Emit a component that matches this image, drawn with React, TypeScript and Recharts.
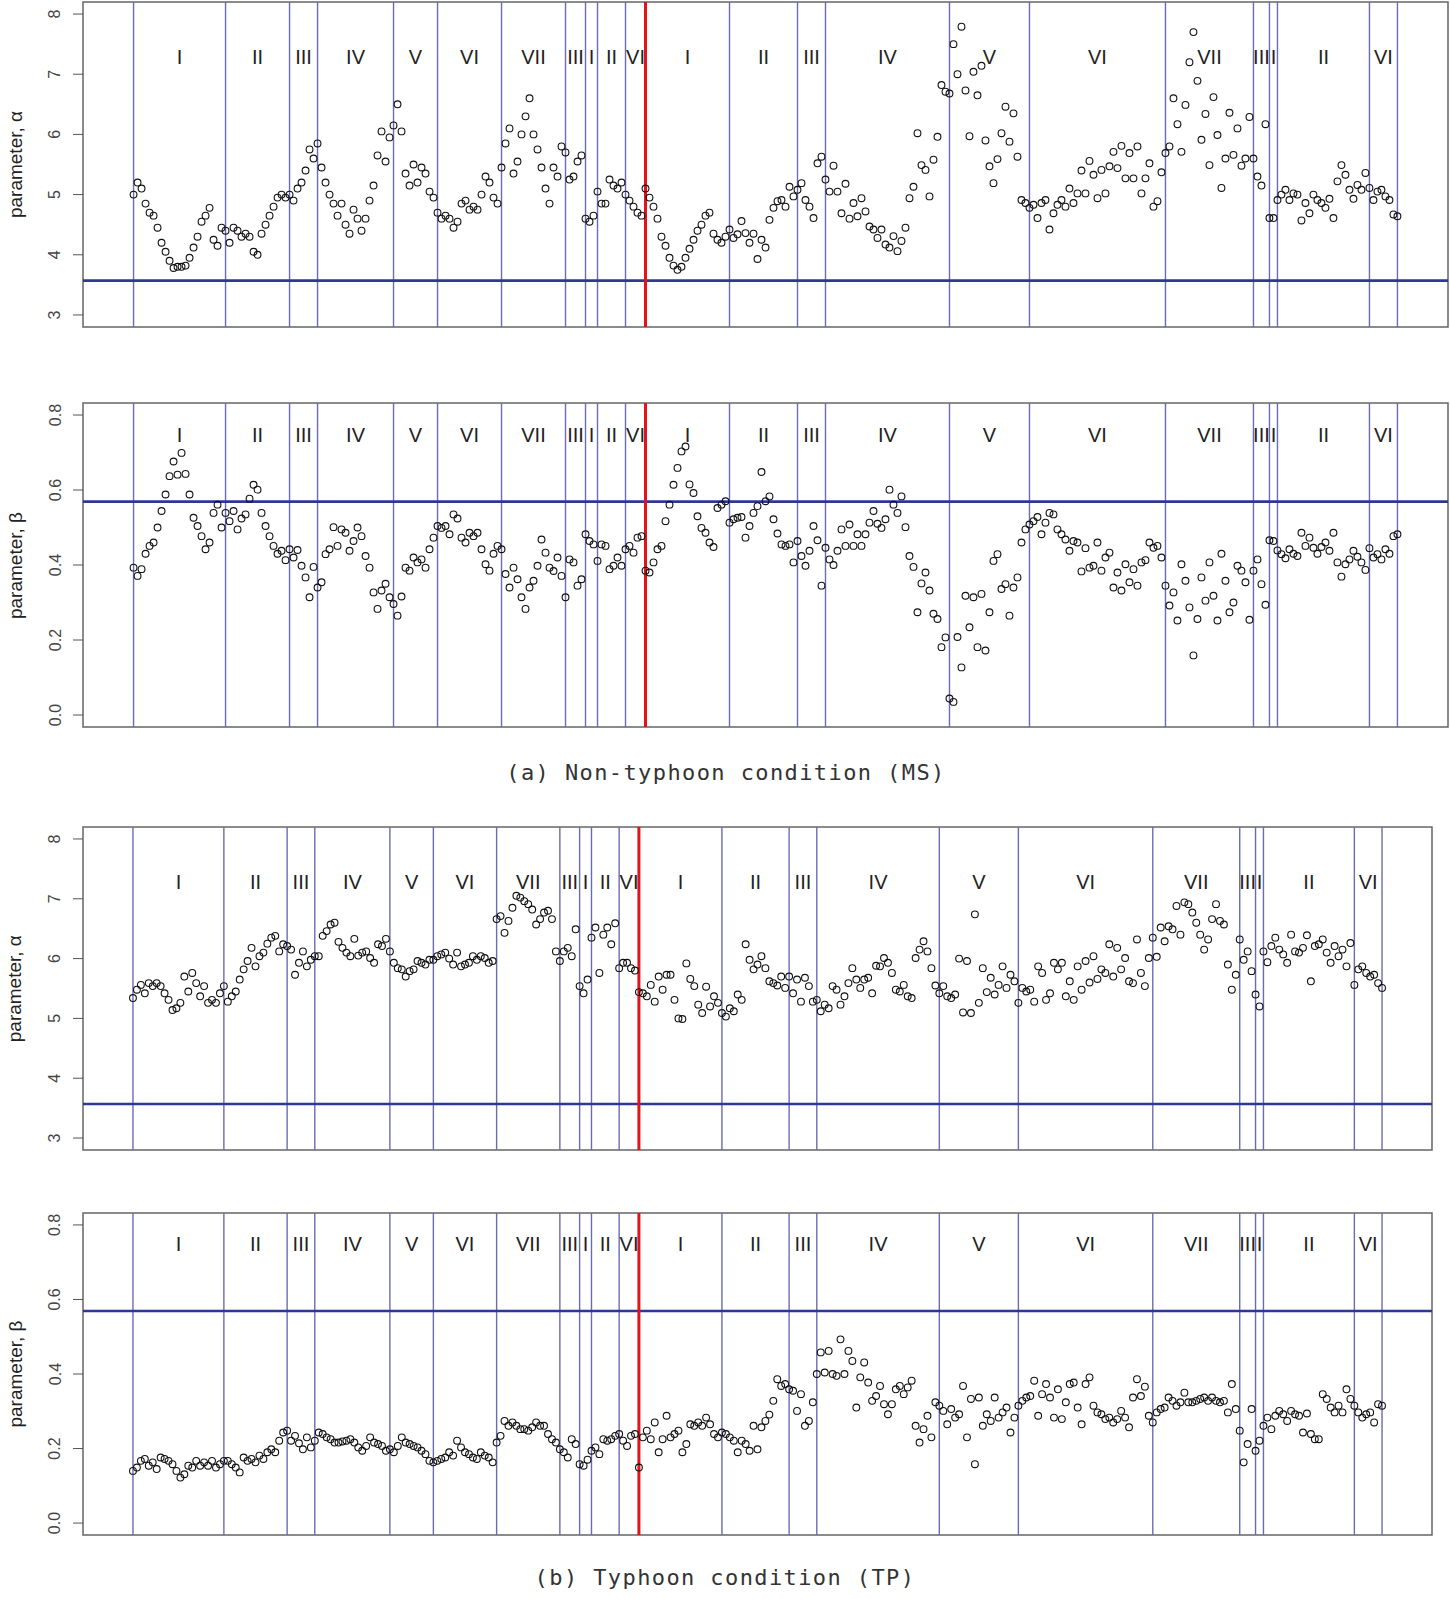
import React from 'react';
import { ScatterChart, Scatter, XAxis, YAxis, ReferenceLine, ReferenceArea } from 'recharts';

// Segment boundaries (observation index where each class segment starts; last = final index)
const BOUNDS = [0, 23, 39, 46, 65, 76, 92, 108, 113, 116, 123, 128, 149, 166, 173, 204, 224, 258, 280, 284, 286, 309, 316];
const SEG_LABELS = ['I', 'II', 'III', 'IV', 'V', 'VI', 'VII', 'III', 'I', 'II', 'VI', 'I', 'II', 'III', 'IV', 'V', 'VI', 'VII', 'III', 'I', 'II', 'VI'];
const RED_BOUND = 128;

const ALPHA_TICKS = [3, 4, 5, 6, 7, 8];
const BETA_TICKS = [0, 0.2, 0.4, 0.6, 0.8];
const ALPHA_REF = 3.57;
const BETA_REF = 0.569;
const ALPHA_LABEL_Y = 7.28;
const BETA_LABEL_Y = 0.748;

// (a) Non-typhoon condition (MS): parameter alpha, per segment
const alphaMS = [
  [5.0, 5.2, 5.1, 4.85, 4.7, 4.65, 4.45, 4.2, 4.05, 3.9, 3.78, 3.8, 3.8, 3.82, 3.95, 4.12, 4.3, 4.55, 4.65, 4.78, 4.25, 4.15, 4.45],
  [4.4, 4.2, 4.45, 4.4, 4.3, 4.35, 4.3, 4.05, 4.0, 4.35, 4.5, 4.65, 4.8, 4.95, 5.0, 4.95],
  [5.0, 4.9, 5.1, 5.2, 5.4, 5.75, 5.6],
  [5.85, 5.45, 5.2, 5.0, 4.85, 4.65, 4.85, 4.5, 4.35, 4.75, 4.6, 4.4, 4.6, 4.9, 5.15, 5.65, 6.05, 5.55, 5.95],
  [6.15, 6.5, 6.05, 5.35, 5.15, 5.5, 5.2, 5.45, 5.35, 5.05, 4.95],
  [4.7, 4.6, 4.65, 4.6, 4.45, 4.55, 4.85, 4.9, 4.75, 4.8, 4.75, 5.0, 5.3, 5.2, 4.95, 4.85],
  [5.45, 5.85, 6.1, 5.35, 5.55, 6.0, 6.3, 6.6, 6.0, 5.75, 5.45, 5.1, 4.85, 5.45, 5.3, 5.8],
  [5.7, 5.25, 5.3, 5.55, 5.65],
  [4.6, 4.55, 4.65],
  [5.05, 4.85, 4.85, 5.25, 5.15, 5.1, 5.2],
  [5.0, 4.9, 4.8, 4.7, 4.65],
  [5.1, 4.95, 4.8, 4.6, 4.3, 4.15, 3.95, 3.82, 3.75, 3.8, 3.95, 4.1, 4.25, 4.4, 4.5, 4.65, 4.7, 4.35, 4.25, 4.2, 4.3],
  [4.42, 4.28, 4.34, 4.56, 4.36, 4.2, 4.35, 3.93, 4.25, 4.12, 4.58, 4.78, 4.89, 4.91, 4.8, 5.13, 4.97],
  [5.08, 5.19, 4.91, 4.8, 4.61, 5.52, 5.63],
  [5.25, 5.05, 5.48, 5.05, 4.69, 5.18, 4.6, 4.86, 4.64, 4.94, 4.72, 4.47, 4.42, 4.28, 4.42, 4.17, 4.12, 4.31, 4.06, 4.23, 4.45, 4.94, 5.13, 6.02, 5.49, 5.41, 4.97, 5.58, 5.96, 6.82, 6.71],
  [6.68, 7.5, 7.0, 7.79, 6.73, 5.97, 7.04, 6.65, 7.14, 5.9, 5.47, 5.19, 5.59, 6.02, 6.46, 5.88, 6.35, 5.63, 4.91, 4.86],
  [4.78, 4.83, 4.61, 4.86, 4.91, 4.42, 4.69, 4.83, 4.91, 4.8, 5.1, 4.86, 5.02, 5.4, 5.02, 5.56, 5.33, 4.94, 5.41, 5.02, 5.47, 5.71, 5.44, 5.81, 5.27, 5.69, 5.27, 5.8, 5.02, 5.27, 5.52, 4.8, 4.89, 5.37],
  [5.69, 5.8, 6.6, 6.17, 5.71, 6.49, 7.2, 7.7, 6.89, 5.91, 6.34, 5.49, 6.62, 5.99, 5.11, 5.6, 6.36, 5.66, 6.1, 5.48, 5.6, 6.29],
  [5.6, 5.3, 5.15, 6.17],
  [4.61, 4.61],
  [4.91, 5.0, 5.08, 4.91, 5.02, 5.0, 4.57, 4.86, 4.69, 5.0, 4.91, 4.86, 4.78, 4.93, 4.61, 5.22, 5.49, 5.33, 5.08, 4.93, 5.16, 5.08, 5.36],
  [5.11, 4.91, 5.05, 5.08, 4.97, 4.91, 4.67, 4.64],
];

// (a) Non-typhoon condition (MS): parameter beta
const betaMS = [
  [0.393, 0.371, 0.389, 0.43, 0.451, 0.46, 0.5, 0.544, 0.588, 0.637, 0.676, 0.641, 0.699, 0.643, 0.588, 0.526, 0.504, 0.477, 0.442, 0.46, 0.539, 0.561, 0.5],
  [0.539, 0.517, 0.544, 0.495, 0.524, 0.535, 0.577, 0.614, 0.601, 0.539, 0.504, 0.477, 0.451, 0.43, 0.438, 0.413],
  [0.442, 0.42, 0.44, 0.398, 0.367, 0.314, 0.395],
  [0.34, 0.354, 0.429, 0.442, 0.501, 0.451, 0.495, 0.486, 0.438, 0.464, 0.5, 0.477, 0.424, 0.393, 0.327, 0.283, 0.332, 0.35, 0.314],
  [0.296, 0.265, 0.316, 0.393, 0.385, 0.42, 0.407, 0.415, 0.393, 0.442, 0.473],
  [0.504, 0.499, 0.504, 0.482, 0.535, 0.524, 0.473, 0.46, 0.486, 0.477, 0.486, 0.442, 0.402, 0.385, 0.43, 0.451],
  [0.442, 0.376, 0.34, 0.393, 0.362, 0.314, 0.283, 0.34, 0.358, 0.398, 0.468, 0.433, 0.393, 0.384, 0.42, 0.371],
  [0.314, 0.415, 0.407, 0.345, 0.362],
  [0.482, 0.464, 0.455],
  [0.411, 0.455, 0.451, 0.389, 0.398, 0.42, 0.398],
  [0.442, 0.451, 0.433, 0.473, 0.477],
  [0.385, 0.38, 0.407, 0.442, 0.451, 0.517, 0.561, 0.614, 0.659, 0.703, 0.716, 0.615, 0.592, 0.53, 0.499, 0.486, 0.46, 0.448, 0.552, 0.561, 0.57],
  [0.513, 0.522, 0.526, 0.528, 0.473, 0.504, 0.539, 0.557, 0.648, 0.57, 0.583, 0.522, 0.484, 0.455, 0.451, 0.455, 0.407],
  [0.464, 0.424, 0.398, 0.438, 0.504, 0.466, 0.345],
  [0.446, 0.415, 0.4, 0.438, 0.495, 0.451, 0.508, 0.451, 0.482, 0.451, 0.482, 0.513, 0.544, 0.51, 0.499, 0.522, 0.601, 0.561, 0.539, 0.583, 0.501, 0.424, 0.395, 0.274, 0.351, 0.38, 0.332, 0.27, 0.256, 0.181, 0.207],
  [0.044, 0.035, 0.208, 0.127, 0.318, 0.234, 0.314, 0.181, 0.323, 0.172, 0.274, 0.411, 0.429, 0.336, 0.349, 0.265, 0.34, 0.367, 0.46, 0.495],
  [0.508, 0.517, 0.528, 0.482, 0.513, 0.539, 0.535, 0.495, 0.482, 0.468, 0.438, 0.464, 0.46, 0.383, 0.445, 0.393, 0.398, 0.46, 0.385, 0.42, 0.433, 0.34, 0.38, 0.332, 0.402, 0.354, 0.389, 0.345, 0.407, 0.413, 0.46, 0.446, 0.451, 0.42],
  [0.345, 0.292, 0.327, 0.252, 0.402, 0.358, 0.287, 0.159, 0.256, 0.367, 0.305, 0.407, 0.318, 0.252, 0.43, 0.358, 0.274, 0.3, 0.398, 0.385, 0.354, 0.254],
  [0.385, 0.415, 0.349, 0.294],
  [0.466, 0.464],
  [0.439, 0.429, 0.418, 0.442, 0.43, 0.424, 0.486, 0.451, 0.473, 0.446, 0.43, 0.448, 0.46, 0.438, 0.486, 0.407, 0.369, 0.402, 0.415, 0.438, 0.422, 0.407, 0.387],
  [0.445, 0.42, 0.429, 0.415, 0.442, 0.43, 0.477, 0.482],
];

// (b) Typhoon condition (TP): parameter alpha
const alphaTP = [
  [5.34, 5.48, 5.56, 5.42, 5.59, 5.54, 5.59, 5.54, 5.42, 5.31, 5.14, 5.17, 5.26, 5.7, 5.45, 5.76, 5.59, 5.37, 5.54, 5.26, 5.31, 5.26, 5.42],
  [5.54, 5.28, 5.37, 5.45, 5.65, 5.82, 5.96, 6.18, 5.87, 6.04, 6.1, 6.25, 6.35, 6.38, 6.12, 6.24],
  [6.21, 6.15, 5.73, 5.93, 6.12, 5.87, 5.98],
  [6.04, 6.04, 6.38, 6.46, 6.57, 6.6, 6.28, 6.18, 6.1, 6.04, 6.33, 6.05, 6.1, 6.12, 6.01, 5.93, 6.24, 6.21, 6.33],
  [6.12, 5.93, 5.84, 5.82, 5.7, 5.79, 5.82, 5.96, 5.93, 5.9, 5.98],
  [5.98, 6.04, 6.07, 6.1, 6.0, 5.9, 6.1, 5.87, 5.9, 5.93, 6.04, 5.98, 6.04, 6.01, 5.93, 5.96],
  [6.66, 6.71, 6.43, 6.63, 6.85, 7.05, 7.02, 6.96, 6.91, 6.82, 6.57, 6.66, 6.77, 6.8, 6.66, 6.12],
  [5.96, 6.12, 6.18, 6.04, 6.49],
  [5.54, 5.42, 5.65],
  [6.35, 6.52, 5.76, 6.4, 6.52, 6.24, 6.59],
  [5.84, 5.93, 5.93, 5.84, 5.8],
  [5.44, 5.42, 5.37, 5.56, 5.28, 5.7, 5.48, 5.73, 5.73, 5.31, 5.0, 4.99, 5.92, 5.66, 5.54, 5.23, 5.09, 5.53, 5.2, 5.37, 5.26],
  [5.09, 5.03, 5.17, 5.12, 5.4, 5.31, 6.24, 5.98, 5.82, 5.9, 6.04, 5.84, 5.62, 5.59, 5.55, 5.7, 5.51],
  [5.7, 5.42, 5.65, 5.28, 5.68, 5.54, 5.28],
  [5.31, 5.12, 5.23, 5.17, 5.54, 5.48, 5.23, 5.37, 5.59, 5.84, 5.65, 5.51, 5.65, 5.68, 5.42, 5.88, 5.87, 6.01, 5.93, 5.76, 5.48, 5.45, 5.56, 5.37, 5.34, 6.01, 6.15, 6.29, 6.12, 5.84, 5.55],
  [5.42, 5.54, 5.37, 5.34, 5.4, 6.0, 5.1, 5.96, 5.09, 6.74, 5.26, 5.84, 5.44, 5.68, 5.4, 5.56, 5.87, 5.51, 5.73, 5.62],
  [5.26, 5.51, 5.45, 5.48, 5.28, 5.87, 5.76, 5.31, 5.42, 5.93, 5.82, 5.93, 5.37, 5.62, 5.31, 5.87, 5.48, 5.96, 5.6, 6.04, 5.66, 5.82, 5.76, 6.24, 5.7, 6.18, 5.82, 6.01, 5.62, 5.59, 6.32, 5.76, 5.54, 6.01],
  [6.35, 6.03, 6.52, 6.29, 6.54, 6.49, 6.88, 6.4, 6.94, 6.91, 6.77, 6.6, 6.4, 6.15, 6.32, 6.66, 6.91, 6.63, 6.57, 5.9, 5.48, 5.73],
  [6.32, 5.98, 6.12, 5.79],
  [5.4, 5.2],
  [6.12, 5.94, 6.21, 6.35, 6.15, 6.07, 5.93, 6.4, 6.12, 6.1, 6.18, 6.39, 5.62, 6.21, 6.24, 6.32, 6.1, 5.93, 6.21, 6.04, 6.15, 5.87, 6.26],
  [5.56, 5.82, 5.87, 5.76, 5.7, 5.73, 5.59, 5.51],
];

// (b) Typhoon condition (TP): parameter beta
const betaTP = [
  [0.14, 0.149, 0.167, 0.172, 0.154, 0.163, 0.145, 0.176, 0.172, 0.167, 0.158, 0.14, 0.122, 0.131, 0.154, 0.149, 0.167, 0.154, 0.163, 0.154, 0.167, 0.149, 0.158],
  [0.167, 0.167, 0.158, 0.149, 0.136, 0.176, 0.167, 0.172, 0.163, 0.181, 0.172, 0.19, 0.198, 0.19, 0.221, 0.243],
  [0.248, 0.221, 0.234, 0.214, 0.198, 0.23, 0.203],
  [0.221, 0.243, 0.239, 0.23, 0.225, 0.216, 0.216, 0.219, 0.221, 0.225, 0.216, 0.203, 0.194, 0.207, 0.23, 0.216, 0.212, 0.207, 0.194],
  [0.198, 0.19, 0.207, 0.23, 0.216, 0.212, 0.207, 0.203, 0.194, 0.185, 0.167],
  [0.163, 0.167, 0.172, 0.176, 0.19, 0.181, 0.221, 0.203, 0.19, 0.185, 0.176, 0.172, 0.19, 0.181, 0.176, 0.163],
  [0.216, 0.234, 0.274, 0.261, 0.27, 0.261, 0.252, 0.252, 0.248, 0.257, 0.27, 0.261, 0.261, 0.239, 0.225, 0.216],
  [0.198, 0.19, 0.176, 0.225, 0.212],
  [0.158, 0.154, 0.17],
  [0.194, 0.203, 0.185, 0.225, 0.221, 0.225, 0.234],
  [0.239, 0.221, 0.207, 0.234, 0.239],
  [0.149, 0.23, 0.248, 0.225, 0.27, 0.19, 0.225, 0.288, 0.23, 0.239, 0.248, 0.19, 0.212, 0.265, 0.261, 0.27, 0.261, 0.283, 0.265, 0.239, 0.23],
  [0.243, 0.239, 0.23, 0.221, 0.19, 0.221, 0.212, 0.194, 0.261, 0.198, 0.257, 0.274, 0.291, 0.328, 0.386, 0.368, 0.373],
  [0.359, 0.355, 0.301, 0.346, 0.261, 0.274, 0.324],
  [0.4, 0.458, 0.404, 0.462, 0.4, 0.395, 0.493, 0.4, 0.462, 0.435, 0.31, 0.391, 0.431, 0.377, 0.328, 0.341, 0.368, 0.319, 0.292, 0.319, 0.359, 0.368, 0.346, 0.364, 0.382, 0.261, 0.216, 0.252, 0.288, 0.23, 0.324],
  [0.315, 0.301, 0.265, 0.306, 0.283, 0.292, 0.368, 0.23, 0.333, 0.158, 0.337, 0.261, 0.292, 0.274, 0.337, 0.283, 0.297, 0.31, 0.243, 0.283],
  [0.315, 0.328, 0.337, 0.341, 0.382, 0.288, 0.346, 0.373, 0.337, 0.283, 0.359, 0.279, 0.324, 0.373, 0.377, 0.31, 0.265, 0.373, 0.391, 0.315, 0.297, 0.292, 0.279, 0.283, 0.27, 0.279, 0.301, 0.283, 0.257, 0.337, 0.386, 0.341, 0.366, 0.288],
  [0.27, 0.297, 0.306, 0.31, 0.337, 0.328, 0.315, 0.324, 0.35, 0.324, 0.324, 0.328, 0.333, 0.337, 0.328, 0.337, 0.328, 0.324, 0.328, 0.297, 0.373, 0.306],
  [0.248, 0.163, 0.212, 0.306],
  [0.194, 0.221],
  [0.261, 0.283, 0.252, 0.288, 0.301, 0.292, 0.274, 0.301, 0.292, 0.288, 0.243, 0.294, 0.239, 0.225, 0.225, 0.346, 0.333, 0.31, 0.297, 0.315, 0.297, 0.359, 0.333],
  [0.315, 0.297, 0.283, 0.292, 0.297, 0.27, 0.319, 0.315],
];

const N_LAST = BOUNDS[BOUNDS.length - 1];
const PAD = 0.04 * N_LAST;
const X_DOMAIN: [number, number] = [-PAD, N_LAST + PAD];

function buildPoints(segs: number[][]) {
  const pts: { x: number; y: number }[] = [];
  segs.forEach((vals, i) => {
    const start = BOUNDS[i];
    const end = BOUNDS[i + 1];
    const isLast = i === segs.length - 1;
    const step = isLast ? (end - start) / Math.max(1, vals.length - 1) : (end - start) / vals.length;
    vals.forEach((v, k) => pts.push({ x: start + k * step, y: v }));
  });
  return pts;
}

const FONT = "'Liberation Sans', Arial, Helvetica, sans-serif";

const Dot = (p: any) => {
  if (p.cx == null || p.cy == null) return null;
  return <circle cx={p.cx} cy={p.cy} r={3.4} fill="none" stroke="#111" strokeWidth={1.1} />;
};

const SegText = (p: any) => {
  if (p.cx == null || p.cy == null) return null;
  const lab = (p.payload && p.payload.label) || p.label;
  return (
    <text x={p.cx} y={p.cy} textAnchor="middle" dominantBaseline="central" fontFamily={FONT} fontSize={20} fill="#222">
      {lab}
    </text>
  );
};

const makeTick = (fmt: (v: number) => string) => (p: any) => {
  const { x, y, payload } = p;
  return (
    <text
      x={x}
      y={y}
      transform={`rotate(-90 ${x} ${y})`}
      textAnchor="middle"
      dominantBaseline="central"
      fontFamily={FONT}
      fontSize={16}
      fill="#444"
    >
      {fmt(payload.value)}
    </text>
  );
};

type PanelProps = {
  segs: number[][];
  top: number;
  mTop: number;
  mBottom: number;
  mRight: number;
  yDomain: [number, number];
  ticks: number[];
  refY: number;
  labelY: number;
  fmt: (v: number) => string;
};

function Panel({ segs, top, mTop, mBottom, mRight, yDomain, ticks, refY, labelY, fmt }: PanelProps) {
  const pts = buildPoints(segs);
  const labels = SEG_LABELS.map((l, i) => ({ x: (BOUNDS[i] + BOUNDS[i + 1]) / 2, y: labelY, label: l }));
  const blueBounds = BOUNDS.filter((b) => b !== RED_BOUND);
  return (
    <div style={{ position: 'absolute', left: 0, top }}>
      <ScatterChart width={1450} height={340} margin={{ top: mTop, right: mRight, bottom: mBottom, left: 0 }}>
        <XAxis type="number" dataKey="x" domain={X_DOMAIN} hide allowDataOverflow />
        <YAxis
          type="number"
          dataKey="y"
          domain={yDomain}
          ticks={ticks}
          width={83}
          allowDataOverflow
          axisLine={false}
          tickSize={10}
          tickMargin={18}
          tickLine={{ stroke: '#555', strokeWidth: 1 }}
          tick={makeTick(fmt)}
        />
        <Scatter data={pts} shape={Dot} isAnimationActive={false} />
        <Scatter data={labels} shape={SegText} isAnimationActive={false} />
        {blueBounds.map((b) => (
          <ReferenceLine key={b} x={b} stroke="#6b6bb3" strokeWidth={1.4} />
        ))}
        <ReferenceLine y={refY} stroke="#2f3795" strokeWidth={2.6} />
        <ReferenceLine x={RED_BOUND} stroke="#e3121b" strokeWidth={3} />
        <ReferenceArea
          x1={X_DOMAIN[0]}
          x2={X_DOMAIN[1]}
          y1={yDomain[0]}
          y2={yDomain[1]}
          fill="none"
          stroke="#666"
          strokeWidth={1.5}
          ifOverflow="visible"
        />
      </ScatterChart>
    </div>
  );
}

const fmtA = (v: number) => String(v);
const fmtB = (v: number) => v.toFixed(1);

export default function App() {
  const aDom: [number, number] = [2.8, 8.2];
  const bDom: [number, number] = [-0.032, 0.832];
  return (
    <div style={{ position: 'absolute', left: 0, top: 0, width: 1450, height: 1599, background: '#fff' }}>
      <Panel segs={alphaMS} top={0} mTop={2} mBottom={13} mRight={2} yDomain={aDom} ticks={ALPHA_TICKS} refY={ALPHA_REF} labelY={ALPHA_LABEL_Y} fmt={fmtA} />
      <Panel segs={betaMS} top={395} mTop={8} mBottom={8} mRight={2} yDomain={bDom} ticks={BETA_TICKS} refY={BETA_REF} labelY={BETA_LABEL_Y} fmt={fmtB} />
      <Panel segs={alphaTP} top={820} mTop={7} mBottom={10} mRight={18} yDomain={aDom} ticks={ALPHA_TICKS} refY={ALPHA_REF} labelY={ALPHA_LABEL_Y} fmt={fmtA} />
      <Panel segs={betaTP} top={1205} mTop={8} mBottom={10} mRight={18} yDomain={bDom} ticks={BETA_TICKS} refY={BETA_REF} labelY={BETA_LABEL_Y} fmt={fmtB} />
      <svg width={1450} height={1599} style={{ position: 'absolute', left: 0, top: 0, pointerEvents: 'none' }}>
        {[
          { y: 164.5, t: 'parameter, α' },
          { y: 565.5, t: 'parameter, β' },
          { y: 988.7, t: 'parameter, α' },
          { y: 1374, t: 'parameter, β' },
        ].map((d, i) => (
          <text
            key={i}
            x={15}
            y={d.y}
            transform={`rotate(-90 15 ${d.y})`}
            textAnchor="middle"
            dominantBaseline="central"
            fontFamily={FONT}
            fontSize={19}
            fill="#222"
          >
            {d.t}
          </text>
        ))}
        <text x={726} y={772} textAnchor="middle" dominantBaseline="central" fontFamily="'DejaVu Sans Mono', monospace" fontSize={22} letterSpacing={1.4} fill="#333">
          (a) Non-typhoon condition (MS)
        </text>
        <text x={725} y={1577} textAnchor="middle" dominantBaseline="central" fontFamily="'DejaVu Sans Mono', monospace" fontSize={22} letterSpacing={1.4} fill="#333">
          (b) Typhoon condition (TP)
        </text>
      </svg>
    </div>
  );
}
